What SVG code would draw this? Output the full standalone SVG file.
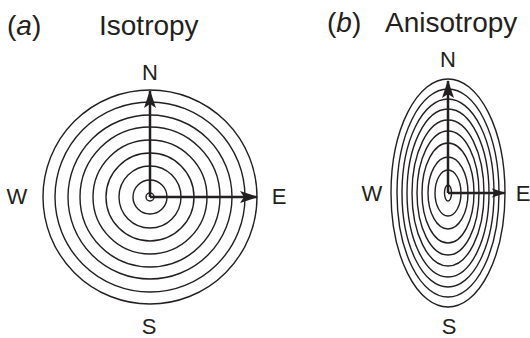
<svg xmlns="http://www.w3.org/2000/svg" width="530" height="338" viewBox="0 0 530 338">
<defs>
<style>
text{font-family:"Liberation Sans",Arial,sans-serif;fill:#231f20}
.t{font-size:28px}
.l{font-size:22px;text-anchor:middle}
.c{fill:none;stroke:#231f20;stroke-width:1.4}
.ax{stroke:#231f20;stroke-width:2.5;fill:none}
</style>
<marker id="ah" viewBox="0 0 18 12" refX="17" refY="6" markerWidth="18" markerHeight="12" markerUnits="userSpaceOnUse" orient="auto">
<path d="M0,0 L18,6 L0,12 L4,6 Z" fill="#231f20"/>
</marker>
<marker id="ahs" viewBox="0 0 18 12" refX="17" refY="6" markerWidth="14" markerHeight="10" markerUnits="userSpaceOnUse" orient="auto">
<path d="M0,0 L18,6 L0,12 L4,6 Z" fill="#231f20"/>
</marker>
</defs>
<rect width="530" height="338" fill="#fff"/>
<g id="title-a"><text class="t" x="7" y="35">(<tspan font-style="italic">a</tspan>)</text><text class="t" x="99" y="35">Isotropy</text></g>
<g id="title-b"><text class="t" x="327" y="32">(<tspan font-style="italic">b</tspan>)</text><text class="t" x="385" y="32">Anisotropy</text></g>
<g id="panel-a">
<g id="circles-a">
<circle class="c" cx="150" cy="197" r="4"/>
<circle class="c" cx="150" cy="197" r="17"/>
<circle class="c" cx="150" cy="197" r="31"/>
<circle class="c" cx="150" cy="197" r="44"/>
<circle class="c" cx="150" cy="197" r="57"/>
<circle class="c" cx="150" cy="197" r="70"/>
<circle class="c" cx="150" cy="197" r="82"/>
<circle class="c" cx="150" cy="197" r="95"/>
<circle class="c" cx="150" cy="197" r="107"/>
</g>
<g id="labels-a">
<text class="l" x="150" y="80">N</text>
<text class="l" x="17" y="204">W</text>
<text class="l" x="279" y="204">E</text>
<text class="l" x="149" y="334">S</text>
</g>
</g>
<g id="panel-b">
<g id="ellipses-b">
<ellipse class="c" cx="448" cy="193" rx="3.5" ry="8"/>
<ellipse class="c" cx="448" cy="193" rx="13" ry="23"/>
<ellipse class="c" cx="448" cy="193" rx="20" ry="36"/>
<ellipse class="c" cx="448" cy="193" rx="26" ry="50"/>
<ellipse class="c" cx="448" cy="193" rx="31" ry="62"/>
<ellipse class="c" cx="448" cy="193" rx="36" ry="73"/>
<ellipse class="c" cx="448" cy="193" rx="41" ry="84"/>
<ellipse class="c" cx="448" cy="193" rx="46" ry="94"/>
<ellipse class="c" cx="448" cy="193" rx="51" ry="104"/>
<ellipse class="c" cx="448" cy="193" rx="57" ry="114"/>
</g>
<g id="labels-b">
<text class="l" x="448" y="67">N</text>
<text class="l" x="372" y="201">W</text>
<text class="l" x="523" y="201">E</text>
<text class="l" x="449" y="334">S</text>
</g>
</g>
<g id="connectors">
<line class="ax" x1="150" y1="197" x2="150" y2="91" marker-end="url(#ah)"/>
<line class="ax" x1="150" y1="197" x2="257" y2="197" marker-end="url(#ah)"/>
<line class="ax" x1="448" y1="193" x2="448" y2="81" marker-end="url(#ah)"/>
<line class="ax" x1="448" y1="193" x2="505" y2="193" marker-end="url(#ahs)"/>
</g>
</svg>
